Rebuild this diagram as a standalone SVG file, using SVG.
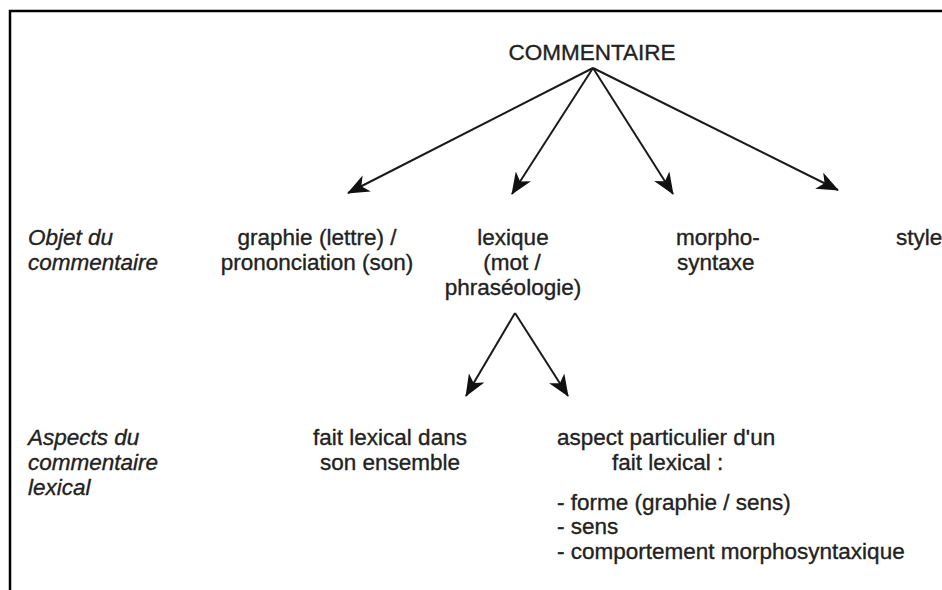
<svg xmlns="http://www.w3.org/2000/svg" width="942" height="590" viewBox="0 0 942 590">
<defs>
<style>
text{font-family:"Liberation Sans",Arial,sans-serif;font-size:22.5px;fill:#222;stroke:#222;stroke-width:0.35}
.it{font-style:italic}
.m{text-anchor:middle}
.c{stroke:#1a1a1a;stroke-width:2;fill:none}
</style>
<marker id="ah" viewBox="0 0 22 18" refX="21" refY="9" markerWidth="22" markerHeight="18" markerUnits="userSpaceOnUse" orient="auto">
<path d="M0,0 L22,9 L0,18 L6,9 Z" fill="#111"/>
</marker>
</defs>
<rect width="942" height="590" fill="#fff"/>
<path d="M10,590 V11 H942" stroke="#000" stroke-width="2.5" fill="none"/>
<g id="connectors">
<line class="c" x1="593" y1="68" x2="348" y2="193" marker-end="url(#ah)"/>
<line class="c" x1="593" y1="68" x2="512" y2="194" marker-end="url(#ah)"/>
<line class="c" x1="593" y1="68" x2="673" y2="194" marker-end="url(#ah)"/>
<line class="c" x1="593" y1="68" x2="838" y2="190" marker-end="url(#ah)"/>
<line class="c" x1="515" y1="313" x2="466" y2="396" marker-end="url(#ah)"/>
<line class="c" x1="515" y1="313" x2="568" y2="396" marker-end="url(#ah)"/>
</g>
<g id="commentaire"><text class="m" x="592" y="60">COMMENTAIRE</text></g>
<g id="objet"><text class="it" x="28" y="245">Objet du</text><text class="it" x="28" y="270">commentaire</text></g>
<g id="graphie"><text class="m" x="317" y="245">graphie (lettre) /</text><text class="m" x="317" y="270">prononciation (son)</text></g>
<g id="lexique"><text class="m" x="513" y="245">lexique</text><text class="m" x="512" y="270">(mot /</text><text class="m" x="513" y="295">phraséologie)</text></g>
<g id="morpho"><text x="676" y="245">morpho-</text><text x="677" y="270">syntaxe</text></g>
<g id="style"><text x="896" y="245">style</text></g>
<g id="aspects"><text class="it" x="28" y="445">Aspects du</text><text class="it" x="28" y="470">commentaire</text><text class="it" x="28" y="495">lexical</text></g>
<g id="fait-ensemble"><text class="m" x="390" y="445">fait lexical dans</text><text class="m" x="390" y="470">son ensemble</text></g>
<g id="aspect-particulier"><text x="557" y="445">aspect particulier d'un</text><text x="612" y="470">fait lexical :</text><text x="557" y="510">- forme (graphie / sens)</text><text x="557" y="534">- sens</text><text x="557" y="559">- comportement morphosyntaxique</text></g>
</svg>
